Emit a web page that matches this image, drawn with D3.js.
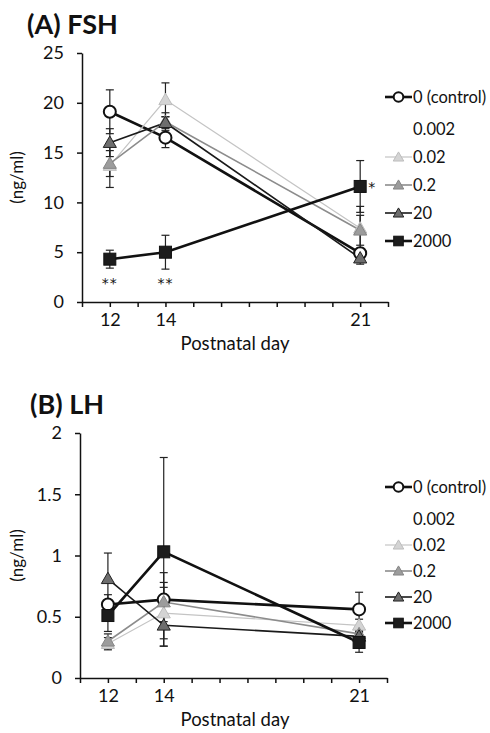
<!DOCTYPE html>
<html>
<head>
<meta charset="utf-8">
<script src="https://cdn.jsdelivr.net/npm/d3@7"></script>
<style>
  body { margin: 0; background: #fff; }
  svg text { font-family: Lato, "Open Sans", sans-serif; fill: #111; }
  .axis path, .axis line { stroke: #111; stroke-width: 1.5; }
  .axis text { font-size: 18px; }
  .star { font-family: "DejaVu Sans", sans-serif !important; font-size: 14px; }
</style>
</head>
<body>
<svg id="chart" width="490" height="733"></svg>
<script>
// postnatal days and dose groups
const days = [12, 14, 21];
const doses = ["0 (control)", "0.002", "0.02", "0.2", "20", "2000"];

// FSH (ng/ml) mean and error per dose, null = not plotted
const fshMean = [[19.1, 16.5, 4.9], null, [13.7, 20.3, 7.4], [13.9, 18.1, 7.2], [16.0, 18.0, 4.4], [4.3, 5.0, 11.6]];
const fshErr  = [[2.2, 1.0, 0.5], null, [2.2, 1.7, 2.2], [1.3, 0.9, 1.5], [1.4, 0.6, 0.6], [0.9, 1.7, 2.6]];

// LH (ng/ml)
const lhMean = [[0.60, 0.64, 0.56], null, [0.28, 0.53, 0.43], [0.30, 0.62, 0.36], [0.81, 0.43, 0.34], [0.51, 1.03, 0.29]];
const lhErr  = [[0.08, 0.22, 0.14], null, [0.05, 0.21, 0.05], [0.06, 0.16, 0.04], [0.21, 0.17, 0.05], [0.13, 0.77, 0.08]];

const fshTicks = [0, 5, 10, 15, 20, 25];
const lhTicks = [0, 0.5, 1, 1.5, 2];
const dayTicks = [11, 12, 13, 14, 15, 16, 17, 18, 19, 20, 21, 22];
const dayLabels = [12, 14, 21];

// significance marks for FSH 2000 group
const fshStars = [{day: 12, text: "**"}, {day: 14, text: "**"}, {day: 21, text: "*"}];

// per-dose drawing style
const styles = [
  {line: "#111", width: 2.6, shape: "circle", fill: "#fff", stroke: "#111"},
  null,
  {line: "#c4c4c4", width: 1.2, shape: "triangle", fill: "#d4d4d4", stroke: "#bdbdbd"},
  {line: "#8c8c8c", width: 1.6, shape: "triangle", fill: "#9c9c9c", stroke: "#858585"},
  {line: "#1a1a1a", width: 1.6, shape: "triangle", fill: "#6e6e6e", stroke: "#222"},
  {line: "#111", width: 2.6, shape: "square", fill: "#1c1c1c", stroke: "#111"}
];

const svg = d3.select("#chart");

function marker(g, st, x, y, k) {
  k = k || 1;
  if (st.shape === "circle") {
    g.append("circle").attr("cx", x).attr("cy", y).attr("r", 6 * k)
      .attr("fill", st.fill).attr("stroke", st.stroke).attr("stroke-width", 2);
  } else if (st.shape === "square") {
    g.append("rect").attr("x", x - 6 * k).attr("y", y - 6 * k).attr("width", 12 * k).attr("height", 12 * k)
      .attr("fill", st.fill).attr("stroke", st.stroke).attr("stroke-width", 1);
  } else {
    g.append("path").attr("d", d3.symbol(d3.symbolTriangle, 75 * k * k)())
      .attr("transform", `translate(${x},${y + 1})`)
      .attr("fill", st.fill).attr("stroke", st.stroke).attr("stroke-width", 1);
  }
}

function drawPanel(p) {
  const x = d3.scaleLinear().domain([11, 22]).range([p.left, p.right]);
  const y = d3.scaleLinear().domain([0, p.ticks[p.ticks.length - 1]]).range([p.bottom, p.top]);

  svg.append("text")
    .attr("x", p.titleX).attr("y", p.titleY)
    .style("font-size", "27px").style("font-weight", "bold")
    .text(p.title);

  svg.append("g").attr("class", "axis")
    .attr("transform", `translate(${p.left},0)`)
    .call(d3.axisLeft(y).tickValues(p.ticks).tickSize(5).tickSizeOuter(0).tickPadding(13)
      .tickFormat(d => d));

  svg.append("g").attr("class", "axis")
    .attr("transform", `translate(0,${p.bottom})`)
    .call(d3.axisBottom(x).tickValues(dayTicks).tickSize(5).tickSizeOuter(0).tickPadding(6)
      .tickFormat(d => dayLabels.includes(d) ? d : ""));

  svg.append("text")
    .attr("x", 235).attr("y", p.bottom + 48)
    .attr("text-anchor", "middle").style("font-size", "18.5px")
    .text("Postnatal day");

  svg.append("text")
    .attr("transform", `translate(23,${(p.top + p.bottom) / 2}) rotate(-90)`)
    .attr("text-anchor", "middle").style("font-size", "17px")
    .text("(ng/ml)");

  const g = svg.append("g");
  const line = d3.line().x((d, i) => x(days[i])).y(d => y(d));

  // error bars first
  p.mean.forEach((m, s) => {
    if (!m) return;
    m.forEach((v, i) => {
      const e = p.err[s][i], cx = x(days[i]);
      const eb = g.append("g").attr("stroke", "#222").attr("stroke-width", 1.2);
      eb.append("line").attr("x1", cx).attr("x2", cx).attr("y1", y(v - e)).attr("y2", y(v + e));
      [v - e, v + e].forEach(t => eb.append("line")
        .attr("x1", cx - 4).attr("x2", cx + 4).attr("y1", y(t)).attr("y2", y(t)));
    });
  });

  p.mean.forEach((m, s) => {
    if (!m) return;
    g.append("path").datum(m).attr("d", line)
      .attr("fill", "none").attr("stroke", styles[s].line).attr("stroke-width", styles[s].width);
  });

  p.mean.forEach((m, s) => {
    if (!m) return;
    m.forEach((v, i) => marker(g, styles[s], x(days[i]), y(v)));
  });

  if (p.stars) {
    const last = p.mean[5];
    p.stars.forEach(st => {
      const i = days.indexOf(st.day);
      if (st.text === "*") {
        svg.append("text").attr("class", "star")
          .attr("x", x(st.day) + 8).attr("y", y(last[i]) + 6).text(st.text);
      } else {
        svg.append("text").attr("class", "star")
          .attr("x", x(st.day)).attr("y", p.bottom - 14)
          .attr("text-anchor", "middle").style("letter-spacing", "1px").text(st.text);
      }
    });
  }

  // legend
  const lg = svg.append("g");
  doses.forEach((name, s) => {
    const ly = p.legY + s * p.legStep + (s > 0 ? p.legGap : 0);
    const st = styles[s];
    if (st) {
      lg.append("line").attr("x1", 385).attr("x2", 412).attr("y1", ly).attr("y2", ly)
        .attr("stroke", st.line).attr("stroke-width", st.width);
      marker(lg, st, 398.5, ly, 0.8);
    }
    lg.append("text").attr("x", 413).attr("y", ly + 6)
      .style("font-size", "16.5px").text(name);
  });
}

drawPanel({
  title: "(A) FSH", titleX: 27, titleY: 34,
  left: 82, right: 388, top: 53, bottom: 302,
  ticks: fshTicks, mean: fshMean, err: fshErr, stars: fshStars,
  legY: 97, legStep: 28, legGap: 4
});

drawPanel({
  title: "(B) LH", titleX: 30, titleY: 414,
  left: 80, right: 387, top: 433, bottom: 678,
  ticks: lhTicks, mean: lhMean, err: lhErr, stars: null,
  legY: 487, legStep: 26, legGap: 6
});
</script>
</body>
</html>
